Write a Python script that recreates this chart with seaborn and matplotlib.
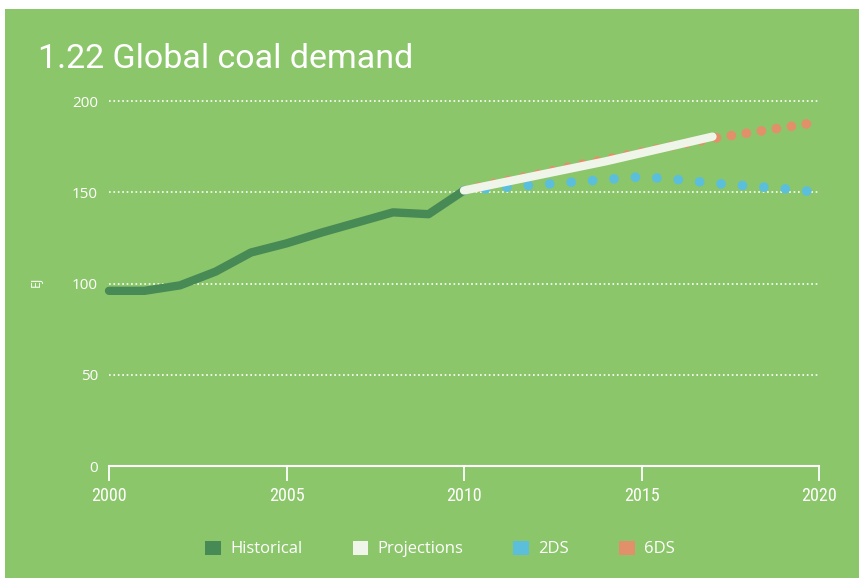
import numpy as np
import pandas as pd
import matplotlib
matplotlib.use('Agg')
import matplotlib.pyplot as plt
from matplotlib import font_manager
from matplotlib.patches import Patch, Rectangle
import seaborn as sns

# data (EJ)
hist_years = [2000, 2001, 2002, 2003, 2004, 2005, 2006, 2007, 2008, 2009, 2010]
hist_values = [96, 96, 99, 106.5, 117, 122, 128, 133.5, 139, 138, 151]

proj_years = [2010, 2011, 2012, 2013, 2014, 2015, 2016, 2017]
proj_values = [151, 155, 159, 163, 167, 171.5, 176, 180.5]

scen_years = [2010, 2011, 2012, 2013, 2014, 2015, 2016, 2017, 2018, 2019, 2020]
values_2ds = [151, 152.5, 154, 155.5, 157, 158.5, 157, 155, 153.5, 152, 150]
values_6ds = [151, 155.5, 159.5, 164, 168, 172, 176, 179.5, 182.5, 185.5, 188.5]

labels = ['Historical', 'Projections', '2DS', '6DS']
colors = {'Historical': '#478A55', 'Projections': '#F0F5EA', '2DS': '#5BBFDB', '6DS': '#E2906A'}

x_ticks = [2000, 2005, 2010, 2015, 2020]
y_ticks = [0, 50, 100, 150, 200]

bg = '#8CC66A'
installed = {f.name for f in font_manager.fontManager.ttflist}
narrow = [f for f in ['Roboto Condensed', 'Liberation Sans Narrow', 'Roboto'] if f in installed] + ['DejaVu Sans']
title_font = ['Roboto', 'DejaVu Sans']
normal = ['Open Sans', 'DejaVu Sans']

sns.set_theme(style='white')
plt.rcParams['font.family'] = normal

fig = plt.figure(figsize=(8.59, 5.85), dpi=100, facecolor='white')
# green panel with a thin white margin
fig.patches.append(Rectangle((5 / 859, 7 / 585), 854 / 859, 569 / 585,
                             transform=fig.transFigure, facecolor=bg, edgecolor='none', zorder=-1))

ax = fig.add_axes([109 / 859, 119 / 585, 710 / 859, 368.6 / 585])
ax.set_facecolor(bg)

# scenario lines as round dots
df_6 = pd.DataFrame({'year': scen_years, 'value': values_6ds})
df_2 = pd.DataFrame({'year': scen_years, 'value': values_2ds})
sns.lineplot(data=df_6, x='year', y='value', ax=ax, color=colors['6DS'], lw=7,
             linestyle=(0, (0.01, 1.55)), dash_capstyle='round', clip_on=False)
sns.lineplot(data=df_2, x='year', y='value', ax=ax, color=colors['2DS'], lw=7,
             linestyle=(0, (0.01, 2.2)), dash_capstyle='round', clip_on=False)

# historical and projections as thick solid lines
df_h = pd.DataFrame({'year': hist_years, 'value': hist_values})
df_p = pd.DataFrame({'year': proj_years, 'value': proj_values})
sns.lineplot(data=df_h, x='year', y='value', ax=ax, color=colors['Historical'], lw=6,
             solid_capstyle='round', solid_joinstyle='round', clip_on=False)
sns.lineplot(data=df_p, x='year', y='value', ax=ax, color=colors['Projections'], lw=6,
             solid_capstyle='round', solid_joinstyle='round', clip_on=False)

# axes styling
ax.set_xlim(2000, 2020)
ax.set_ylim(0, 202)
ax.set_xticks(x_ticks)
ax.set_yticks(y_ticks)
ax.set_xticklabels([str(t) for t in x_ticks], family=narrow, fontsize=13, color='white')
ax.set_yticklabels([str(t) for t in y_ticks], family=normal, fontsize=11, color='white')
ax.tick_params(axis='x', bottom=True, direction='out', length=11, width=1.3, color='white', pad=4)
ax.tick_params(axis='y', left=False, length=0, pad=8)
for s in ['top', 'right', 'left']:
    ax.spines[s].set_visible(False)
ax.spines['bottom'].set_color('white')
ax.spines['bottom'].set_linewidth(1.5)
ax.yaxis.grid(True, color='white', linestyle=':', linewidth=1.2)
ax.set_axisbelow(True)
ax.set_xlabel('')
ax.set_ylabel('EJ', color='white', fontsize=9, labelpad=22)

# title
fig.text(38 / 859, 1 - 68 / 585, '1.22 Global coal demand', family=title_font,
         fontsize=24.5, color='white', va='baseline', ha='left')

# legend with square patches
handles = [Patch(facecolor=colors[l], edgecolor='none', label=l) for l in labels]
leg = fig.legend(handles=handles, loc='center', bbox_to_anchor=(440 / 859, 1 - 549 / 585),
                 ncol=4, frameon=False, fontsize=12, handlelength=0.95, handleheight=0.95,
                 handletextpad=0.55, columnspacing=3.0)
for t in leg.get_texts():
    t.set_color('white')

fig.savefig('out.png', dpi=100, facecolor=fig.get_facecolor())
